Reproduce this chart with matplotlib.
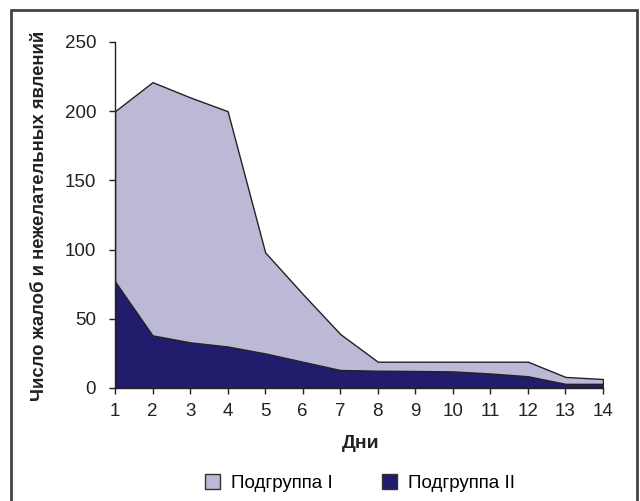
import matplotlib
matplotlib.use("Agg")
import matplotlib.pyplot as plt
from matplotlib.patches import Rectangle, Patch

days = list(range(1, 15))
group1 = [200, 221, 210, 200, 98, 68, 39, 19, 19, 19, 19, 19, 8, 6.5]
group2 = [77, 38, 33, 30, 25, 19, 13, 12.5, 12.3, 12, 10.5, 8.5, 3, 3]
labels = ["Подгруппа I", "Подгруппа II"]
yticks = [0, 50, 100, 150, 200, 250]

plt.rcParams['font.family'] = ['Liberation Sans', 'DejaVu Sans']
light = "#BBB9D6"
dark = "#211C6C"
txt = "#222222"

fig = plt.figure(figsize=(6.4, 5.01), dpi=100)
ax = fig.add_axes([115/640, 1-388/501, (603-115)/640, (388-42)/501])

ax.fill_between(days, 0, group1, facecolor=light, edgecolor="#222222", linewidth=1.0, zorder=2)
ax.fill_between(days, 0, group2, facecolor=dark, edgecolor="#222222", linewidth=1.0, zorder=3)

ax.set_xlim(1, 14)
ax.set_ylim(0, 250)
ax.set_xticks(days)
ax.set_yticks(yticks)
ax.tick_params(axis='both', labelsize=13.5, length=4.5, width=1, color=txt, labelcolor=txt)
ax.tick_params(axis='x', pad=6)
ax.tick_params(axis='y', pad=9)
for s in ["top", "right"]:
    ax.spines[s].set_visible(False)
for s in ["left", "bottom"]:
    ax.spines[s].set_color(txt)
    ax.spines[s].set_linewidth(1)
    ax.spines[s].set_zorder(5)

ax.set_ylabel("Число жалоб и нежелательных явлений", fontsize=13.3, fontweight="bold", color=txt)
ax.yaxis.set_label_coords(48/640, 1-216/501, transform=fig.transFigure)
fig.text(361/640, 1-444/501, "Дни", fontsize=14, fontweight="bold", color=txt,
         ha="center", va="center")

handles = [Patch(facecolor=light, edgecolor="#333333", linewidth=1),
           Patch(facecolor=dark, edgecolor="#333333", linewidth=1)]
fig.legend(handles, labels, loc="center", bbox_to_anchor=(360/640, 1-483/501), ncol=2,
           frameon=False, fontsize=13.5, handlelength=0.8, handleheight=0.8,
           columnspacing=2.6, handletextpad=0.6, borderpad=0)

fig.add_artist(Rectangle((11/640, -0.05), (637-11)/640, 1.05-10/501, transform=fig.transFigure,
                         fill=False, edgecolor="#444444", linewidth=2))

fig.savefig("out.png", dpi=100)
